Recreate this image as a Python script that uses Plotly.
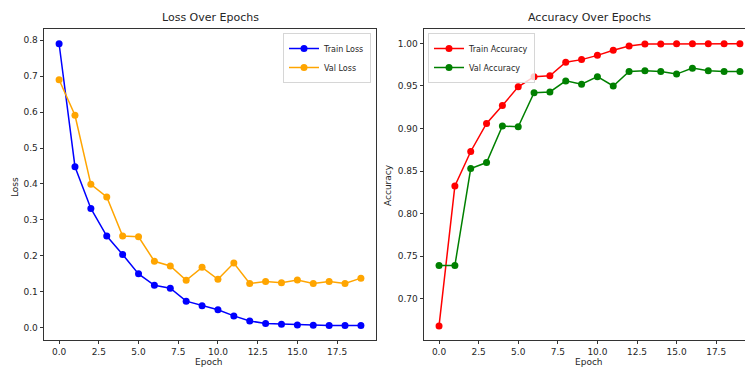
import plotly.graph_objects as go

epochs = list(range(20))
train_loss = [0.790, 0.448, 0.332, 0.255, 0.204, 0.150, 0.118, 0.110, 0.074, 0.061,
              0.050, 0.033, 0.019, 0.012, 0.010, 0.008, 0.007, 0.006, 0.006, 0.006]
val_loss = [0.690, 0.591, 0.399, 0.364, 0.255, 0.253, 0.185, 0.172, 0.132, 0.168,
            0.135, 0.180, 0.123, 0.129, 0.125, 0.133, 0.123, 0.129, 0.123, 0.138]
train_acc = [0.668, 0.8325, 0.873, 0.906, 0.927, 0.949, 0.961, 0.962, 0.978, 0.981,
             0.986, 0.992, 0.997, 0.9995, 0.9995, 0.9996, 0.9996, 0.9996, 0.9996, 0.9996]
val_acc = [0.739, 0.739, 0.853, 0.860, 0.903, 0.902, 0.942, 0.943, 0.956, 0.952,
           0.961, 0.950, 0.967, 0.968, 0.967, 0.964, 0.971, 0.968, 0.967, 0.967]

x_ticks = [0.0, 2.5, 5.0, 7.5, 10.0, 12.5, 15.0, 17.5]
loss_ticks = [0.0, 0.1, 0.2, 0.3, 0.4, 0.5, 0.6, 0.7, 0.8]
acc_ticks = [0.70, 0.75, 0.80, 0.85, 0.90, 0.95, 1.00]

W, H = 745, 369
FONT = "DejaVu Sans"
TXT = "#262626"

fig = go.Figure()

def add(x, y, name, color, xa, ya, legend):
    fig.add_trace(go.Scatter(
        x=x, y=y, name=name, mode="lines+markers",
        line=dict(color=color, width=1.5),
        marker=dict(color=color, size=7, symbol="circle"),
        xaxis=xa, yaxis=ya, legend=legend))

add(epochs, train_loss, "Train Loss", "blue", "x", "y", "legend")
add(epochs, val_loss, "Val Loss", "orange", "x", "y", "legend")
add(epochs, train_acc, "Train Accuracy", "red", "x2", "y2", "legend2")
add(epochs, val_acc, "Val Accuracy", "green", "x2", "y2", "legend2")

def px_x(p):
    return p / W

def px_y(p):
    return 1 - p / H

ydom = [px_y(340), px_y(29)]
tickfont = dict(family=FONT, size=9, color=TXT)
axis_common = dict(showgrid=False, zeroline=False, ticks="outside", ticklen=3.5,
                   tickwidth=0.8, tickcolor="#333", linecolor="#333", linewidth=0.9,
                   showline=True, tickfont=tickfont)

fig.update_layout(
    width=W, height=H,
    margin=dict(l=0, r=0, t=0, b=0),
    paper_bgcolor="white", plot_bgcolor="white",
    font=dict(family=FONT, size=9, color=TXT),
    xaxis=dict(domain=[px_x(44), px_x(376)], range=[-0.95, 19.95], anchor="y",
               tickvals=x_ticks, ticktext=[f"{v:.1f}" for v in x_ticks],
               mirror=True, **axis_common),
    yaxis=dict(domain=ydom, range=[-0.034, 0.831], anchor="x",
               tickvals=loss_ticks, ticktext=[f"{v:.1f}" for v in loss_ticks],
               mirror=True, **axis_common),
    xaxis2=dict(domain=[px_x(424), 1.0], range=[-0.95, 19.32], anchor="y2",
                tickvals=x_ticks, ticktext=[f"{v:.1f}" for v in x_ticks],
                mirror=True, **axis_common),
    yaxis2=dict(domain=ydom, range=[0.6514, 1.0170], anchor="x2",
                tickvals=acc_ticks, ticktext=[f"{v:.2f}" for v in acc_ticks],
                mirror=False, **axis_common),
    legend=dict(x=px_x(371), y=px_y(33), xanchor="right", yanchor="top",
                bgcolor="rgba(255,255,255,0.8)", bordercolor="#d6d6d6", borderwidth=1,
                font=dict(family=FONT, size=8, color=TXT), tracegroupgap=0,
                itemwidth=30),
    legend2=dict(x=px_x(428), y=px_y(33), xanchor="left", yanchor="top",
                 bgcolor="rgba(255,255,255,0.8)", bordercolor="#d6d6d6", borderwidth=1,
                 font=dict(family=FONT, size=8, color=TXT), tracegroupgap=0,
                 itemwidth=30),
    showlegend=True,
)

ann = [
    dict(text="Loss Over Epochs", x=px_x(210), y=px_y(17), size=11),
    dict(text="Accuracy Over Epochs", x=px_x(589), y=px_y(17), size=11),
    dict(text="Epoch", x=px_x(209), y=px_y(362), size=9),
    dict(text="Epoch", x=px_x(589), y=px_y(362), size=9),
    dict(text="Loss", x=px_x(15), y=px_y(187), size=9, angle=-90),
    dict(text="Accuracy", x=px_x(388), y=px_y(185), size=9, angle=-90),
]
for a in ann:
    fig.add_annotation(text=a["text"], x=a["x"], y=a["y"], xref="paper", yref="paper",
                       xanchor="center", yanchor="middle", showarrow=False,
                       textangle=a.get("angle", 0),
                       font=dict(family=FONT, size=a["size"], color=TXT))

fig.write_html("out.html", config={"displayModeBar": False},
               post_script="document.body.style.margin='0';document.body.style.padding='0';")
